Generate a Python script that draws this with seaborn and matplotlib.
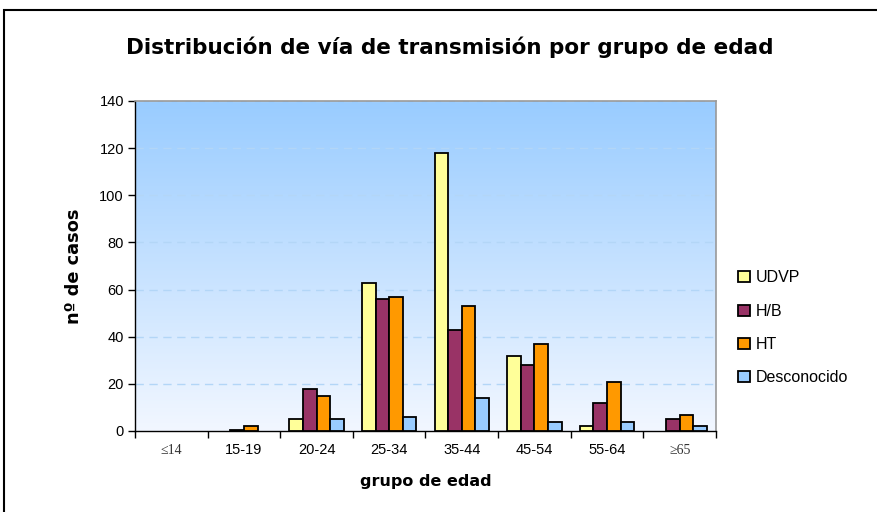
import numpy as np
import pandas as pd
import matplotlib
matplotlib.use("Agg")
import matplotlib.pyplot as plt
from matplotlib.colors import LinearSegmentedColormap
from matplotlib.patches import Rectangle
import seaborn as sns

# ---- data ----
groups = ["≤14", "15-19", "20-24", "25-34", "35-44", "45-54", "55-64", "≥65"]
series = ["UDVP", "H/B", "HT", "Desconocido"]
udvp = [0, 0, 5, 63, 118, 32, 2, 0]
hb = [0, 0.5, 18, 56, 43, 28, 12, 5]
ht = [0, 2, 15, 57, 53, 37, 21, 7]
desconocido = [0, 0, 5, 6, 14, 4, 4, 2]
colors = ["#FFFF99", "#993366", "#FF9900", "#99CCFF"]

df = pd.DataFrame({
    "grupo": groups * 4,
    "serie": sum([[s] * len(groups) for s in series], []),
    "casos": udvp + hb + ht + desconocido,
})

sns.set_style("white")
plt.rcParams["font.family"] = ["Liberation Sans", "DejaVu Sans"]
plt.rcParams["text.color"] = "black"
plt.rcParams["axes.labelcolor"] = "black"
plt.rcParams["xtick.color"] = "black"
plt.rcParams["ytick.color"] = "black"

fig = plt.figure(figsize=(8.78, 5.12), dpi=100)
W, H = 878, 512
ax = fig.add_axes([135 / W, 1 - 431 / H, (716 - 135) / W, (431 - 101) / H])

# gradient background
cmap = LinearSegmentedColormap.from_list("bg", ["#F2F7FF", "#99CCFF"])
grad = np.linspace(0, 1, 256).reshape(-1, 1)
ax.imshow(grad, extent=[0, 1, 0, 1], transform=ax.transAxes, origin="lower",
          cmap=cmap, aspect="auto", zorder=0)

sns.barplot(data=df, x="grupo", y="casos", hue="serie", hue_order=series,
            order=groups, palette=colors, saturation=1, width=0.75,
            edgecolor="black", linewidth=1.3, ax=ax, zorder=3, legend=True)

# hide zero-height bars (Excel draws nothing for them)
for cont in ax.containers:
    for p in cont:
        if p.get_height() == 0:
            p.set_visible(False)

ax.set_xlim(-0.5, len(groups) - 0.5)
ax.set_ylim(0, 140)
ax.set_yticks(range(0, 141, 20))
for y in range(20, 141, 20):
    ax.axhline(y, color="#B3D6F7", lw=1.0, ls=(0, (6, 4)), zorder=1)

for s in ["top", "right"]:
    ax.spines[s].set_color("#999999")
    ax.spines[s].set_linewidth(1.2)
for s in ["left", "bottom"]:
    ax.spines[s].set_color("black")
    ax.spines[s].set_linewidth(1.0)

ax.tick_params(axis="y", which="major", direction="out", length=5, width=1,
               color="black", labelsize=10.5, pad=3, left=True)
ax.set_xticks(range(len(groups)))
ax.set_xticklabels(groups)
ax.tick_params(axis="x", which="major", length=0, labelsize=10.5, pad=9)
ax.set_xticks(np.arange(-0.5, len(groups), 1), minor=True)
ax.tick_params(axis="x", which="minor", direction="out", length=5, width=1,
               color="black", bottom=True)
for lbl in ax.get_xticklabels():
    if lbl.get_text() in ("≤14", "≥65"):
        lbl.set_fontfamily(["Liberation Serif", "DejaVu Serif"])
        lbl.set_fontsize(10)
        lbl.set_color("#333333")

ax.set_xlabel("grupo de edad", fontsize=11.5, fontweight="bold",
              fontfamily="DejaVu Sans", labelpad=12)
ax.set_ylabel("nº de casos", fontsize=12.8, fontweight="bold",
              fontfamily="DejaVu Sans", labelpad=12)

handles, labels = ax.get_legend_handles_labels()
ax.legend(handles, labels, loc="upper left", bbox_to_anchor=(732 / W, 1 - 264 / H),
          bbox_transform=fig.transFigure, frameon=False, fontsize=11.5,
          handlelength=0.7, handleheight=0.7, handletextpad=0.4,
          labelspacing=1.15, borderaxespad=0)
for h in ax.get_legend().legend_handles:
    h.set_visible(True)
    h.set_edgecolor("black")
    h.set_linewidth(1.3)

fig.text(450 / W, 1 - 47 / H, "Distribución de vía de transmisión por grupo de edad",
         ha="center", va="center", fontsize=15.5, fontweight="bold",
         fontfamily="DejaVu Sans")

fig.patches.append(Rectangle((4 / W, -0.05), 1.0, 1 - 10 / H + 0.05,
                             transform=fig.transFigure, fill=False,
                             edgecolor="black", linewidth=1.5))

fig.savefig("out.png", dpi=100, facecolor="white")
